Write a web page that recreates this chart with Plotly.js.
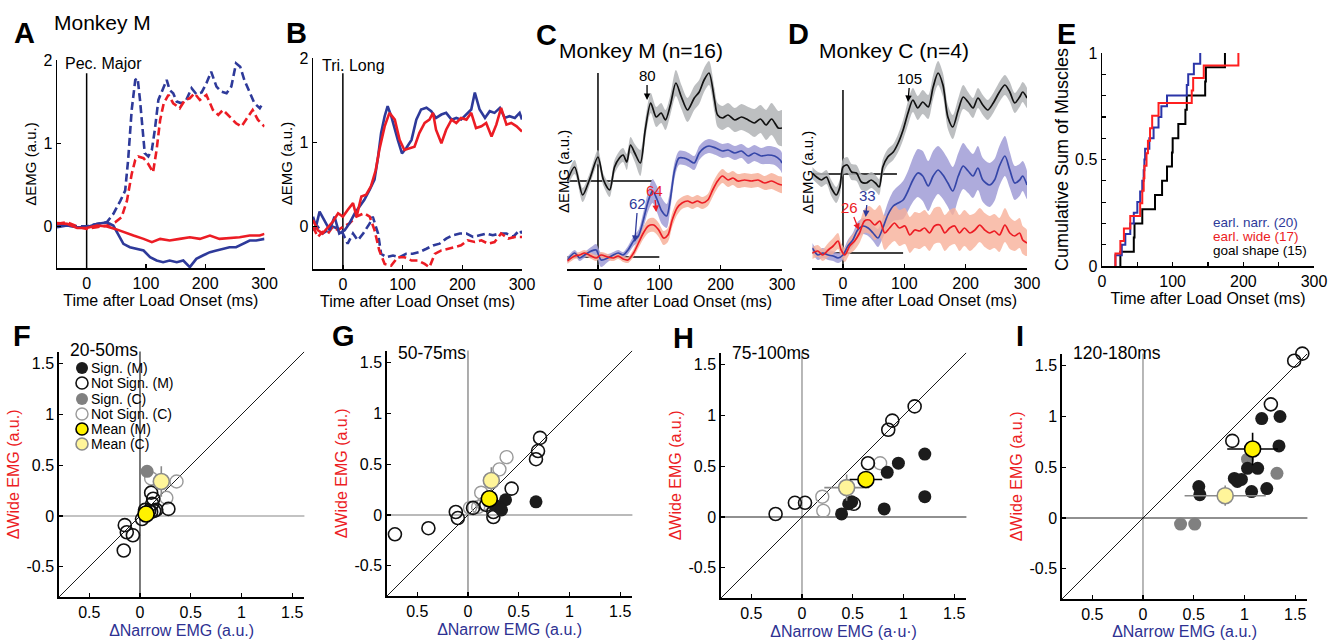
<!DOCTYPE html>
<html><head><meta charset="utf-8">
<script src="https://cdn.plot.ly/plotly-3.0.1.min.js"></script>
<style>html,body{margin:0;padding:0;background:#fff}#chart{width:1343px;height:640px}</style>
</head><body><div id="chart"></div>
<script>
// ---------- Panel A (Pec. Major) ----------
const aBlueDashT = [-50,-33,-16,0,17,34,45,57,65,70,76,82,86,90,95,98,104,110,115,121,128,135,140,146,152,160,168,177,185,194,202,210,219,227,236,244,252,259,266,275,283,292,297];
const aBlueDashV = [0.02,0.01,0,0,0.03,0.05,0.15,0.31,0.43,0.8,1.4,1.76,1.78,1.52,1.12,0.88,0.84,0.92,1.16,1.52,1.64,1.76,1.64,1.6,1.5,1.48,1.52,1.66,1.59,1.61,1.72,1.86,1.68,1.62,1.6,1.68,1.96,1.92,1.76,1.6,1.48,1.42,1.48];
const aRedDashT = [-50,-33,-16,0,17,34,48,59,68,76,82,87,96,104,112,118,124,130,138,146,157,166,174,182,191,202,213,222,230,241,252,261,269,280,289,300];
const aRedDashV = [0.03,0.05,0,-0.03,-0.01,0.01,0.05,0.11,0.31,0.63,0.8,0.84,0.82,0.75,0.65,0.92,1.28,1.48,1.58,1.48,1.42,1.52,1.54,1.6,1.52,1.58,1.4,1.34,1.4,1.32,1.24,1.2,1.28,1.4,1.28,1.2];
const aBlueT = [-50,-33,-16,0,17,34,45,54,62,73,85,96,107,118,129,140,152,163,174,185,196,208,219,230,241,252,264,275,286,300];
const aBlueV = [-0.01,0.01,-0.01,-0.01,0.03,0.05,0.01,-0.11,-0.21,-0.25,-0.27,-0.29,-0.37,-0.41,-0.43,-0.41,-0.43,-0.41,-0.49,-0.39,-0.35,-0.31,-0.29,-0.27,-0.25,-0.25,-0.21,-0.17,-0.17,-0.15];
const aRedT = [-50,-33,-16,0,17,34,48,62,79,96,110,124,140,157,174,191,208,224,241,258,275,292,300];
const aRedV = [0.04,0.03,-0.02,-0.02,0.01,0,-0.03,-0.07,-0.11,-0.15,-0.19,-0.15,-0.17,-0.15,-0.13,-0.15,-0.11,-0.15,-0.14,-0.13,-0.11,-0.11,-0.09];

// ---------- Panel B (Tri. Long) ----------
const bBlueT = [-50,-45,-39,-31,-22,-14,-6,3,11,20,28,36,45,53,59,64,70,75,81,87,92,99,106,115,123,131,140,148,156,165,173,182,190,198,207,215,221,229,238,246,254,263,271,279,288,296,300];
const bBlueV = [0.12,0,0.18,0.08,-0.04,0.12,-0.08,-0.04,0.04,0.16,0.24,0.32,0.44,0.56,0.83,1.11,1.31,1.43,1.31,1.15,1.03,0.87,0.93,1.03,1.27,1.39,1.41,1.37,1.29,1.33,1.35,1.27,1.29,1.27,1.33,1.39,1.59,1.39,1.29,1.37,1.35,1.41,1.29,1.31,1.29,1.35,1.27];
const bRedT = [-50,-42,-34,-25,-17,-8,0,8,17,23,31,39,47,55,61,70,78,87,95,103,112,120,128,137,145,151,156,165,173,182,190,198,207,215,223,232,240,249,257,265,274,282,291,300];
const bRedV = [0.08,-0.04,-0.08,0,0.06,0.16,0.12,0.2,0.28,0.12,0.36,0.38,0.48,0.67,0.91,1.19,1.35,1.27,1.03,0.91,0.93,0.95,1.11,1.23,1.27,1.35,1.15,0.99,1.15,1.27,1.23,1.29,1.27,1.35,1.17,1.19,1.23,1.07,1.21,1.41,1.21,1.23,1.19,1.13];
const bBlueDashT = [-50,-42,-34,-25,-17,-8,0,8,17,25,34,45,50,59,64,73,84,95,106,117,128,140,151,162,173,184,196,207,218,229,240,251,263,274,285,296,300];
const bBlueDashV = [-0.04,0,-0.08,-0.04,0,-0.02,-0.08,-0.2,-0.08,-0.16,-0.08,0.04,0.12,-0.08,-0.32,-0.36,-0.34,-0.36,-0.32,-0.32,-0.3,-0.26,-0.22,-0.2,-0.14,-0.1,-0.08,-0.08,-0.12,-0.1,-0.08,-0.1,-0.08,-0.08,-0.12,-0.04,-0.08];
const bRedDashT = [-50,-42,-34,-25,-17,-8,0,11,22,36,45,53,61,70,81,92,103,115,126,137,145,154,165,176,187,198,209,221,232,243,254,265,277,288,300];
const bRedDashV = [0,-0.12,-0.06,-0.08,0,-0.04,0,0.04,0.12,0.16,0.12,-0.04,-0.28,-0.44,-0.46,-0.36,-0.36,-0.4,-0.4,-0.44,-0.48,-0.32,-0.28,-0.26,-0.24,-0.22,-0.16,-0.18,-0.16,-0.2,-0.18,-0.08,-0.14,-0.12,-0.12];

// ---------- Panel C (Monkey M, n=16) ----------
const cBlackT = [-50,-38,-25,-14,0,9,19,27,35,41,47,53,60,69,77,86,95,103,110,118,127,136,146,157,165,173,181,190,195,203,212,223,234,245,255,265,274,283,294,300];
const cBlackV = [0.0,0.14,-0.14,0.01,0.24,0.01,-0.09,0.14,0.23,0.26,0.19,0.36,0.28,0.18,0.51,0.78,0.64,0.68,0.61,0.76,0.98,0.84,0.71,0.83,0.89,1.01,1.08,0.81,0.66,0.63,0.66,0.61,0.64,0.61,0.58,0.62,0.56,0.62,0.53,0.53];
const cBlackSem = [0.06,0.07,0.07,0.06,0.07,0.06,0.07,0.07,0.07,0.07,0.08,0.08,0.09,0.13,0.1,0.1,0.1,0.1,0.1,0.1,0.13,0.12,0.12,0.12,0.12,0.12,0.12,0.12,0.12,0.12,0.12,0.12,0.13,0.13,0.14,0.14,0.15,0.16,0.17,0.18];
const cBlueT = [-50,-38,-30,-22,-11,-3,5,16,25,33,41,49,58,66,74,82,89,96,104,112,118,125,132,140,148,157,165,173,181,192,203,212,223,234,245,255,266,277,288,297,300];
const cBlueV = [-0.03,0.04,-0.01,0.02,0.06,0.07,-0.03,-0.01,0.02,0.04,0.02,0.07,0.16,0.21,0.37,0.56,0.66,0.58,0.46,0.41,0.58,0.87,0.99,0.99,0.97,0.94,1.04,1.09,1.11,1.09,1.06,1.07,1.04,1.06,1.01,1.04,1.01,1.02,1.01,0.97,0.94];
const cBlueSem = [0.03,0.03,0.03,0.03,0.04,0.06,0.07,0.04,0.03,0.03,0.03,0.04,0.05,0.06,0.08,0.1,0.12,0.13,0.13,0.12,0.1,0.08,0.07,0.07,0.07,0.07,0.07,0.07,0.07,0.07,0.07,0.07,0.07,0.07,0.08,0.08,0.08,0.09,0.09,0.1,0.1];
const cRedT = [-50,-38,-30,-22,-11,-3,5,16,25,33,41,49,58,66,74,82,91,99,107,114,121,129,137,146,154,162,170,179,187,195,203,212,220,228,239,250,261,272,283,294,300];
const cRedV = [-0.04,0.01,0.02,0.04,0.01,-0.01,0.02,0.0,-0.01,0.01,-0.02,-0.03,0.04,0.14,0.24,0.31,0.32,0.27,0.19,0.22,0.37,0.49,0.54,0.56,0.54,0.56,0.54,0.57,0.67,0.76,0.81,0.77,0.79,0.76,0.77,0.76,0.77,0.74,0.76,0.73,0.72];
const cRedSem = [0.03,0.03,0.03,0.03,0.03,0.03,0.03,0.03,0.03,0.03,0.03,0.03,0.04,0.05,0.06,0.07,0.07,0.07,0.07,0.07,0.07,0.07,0.06,0.06,0.06,0.06,0.06,0.06,0.07,0.07,0.07,0.07,0.07,0.07,0.07,0.07,0.07,0.07,0.08,0.08,0.08];

// ---------- Panel D (Monkey C, n=4) ----------
const dBlackT = [-50,-43,-35,-27,-19,-11,-5,0,7,14,22,30,38,46,53,59,65,73,82,90,98,106,114,122,130,139,147,155,163,171,179,188,196,204,212,220,228,236,245,255,264,272,280,288,293,300];
const dBlackV = [0.01,-0.03,-0.06,-0.03,-0.14,-0.21,-0.13,0.07,0.09,0.02,0.01,-0.08,-0.09,-0.06,-0.09,-0.13,0.07,0.17,0.22,0.31,0.44,0.61,0.74,0.66,0.72,0.67,0.87,1.01,0.89,0.57,0.47,0.64,0.77,0.72,0.66,0.76,0.69,0.64,0.71,0.82,0.89,0.82,0.71,0.77,0.82,0.76];
const dBlackSem = [0.06,0.06,0.07,0.07,0.08,0.08,0.08,0.08,0.08,0.08,0.08,0.08,0.08,0.08,0.08,0.08,0.08,0.08,0.08,0.09,0.1,0.12,0.12,0.12,0.12,0.12,0.12,0.12,0.12,0.12,0.12,0.12,0.12,0.1,0.1,0.1,0.1,0.1,0.1,0.1,0.1,0.1,0.1,0.1,0.1,0.1];
const dBlueT = [-50,-41,-33,-24,-16,-8,0,8,16,24,33,41,49,57,65,73,82,90,98,106,114,122,130,139,147,155,163,171,179,188,196,204,212,220,228,239,247,255,264,272,280,288,293,300];
const dBlueV = [0.05,-0.02,0,-0.02,-0.03,-0.05,-0.02,0.07,0.13,0.23,0.27,0.25,0.2,0.15,0.25,0.38,0.47,0.5,0.53,0.62,0.73,0.8,0.77,0.67,0.77,0.83,0.78,0.7,0.62,0.77,0.87,0.82,0.77,0.85,0.73,0.68,0.73,0.87,0.97,0.83,0.7,0.73,0.77,0.68];
const dBlueSem = [0.05,0.05,0.05,0.05,0.05,0.05,0.05,0.06,0.07,0.08,0.08,0.08,0.08,0.09,0.1,0.12,0.15,0.17,0.19,0.2,0.22,0.24,0.25,0.25,0.25,0.24,0.24,0.24,0.24,0.23,0.23,0.22,0.22,0.22,0.22,0.22,0.21,0.2,0.2,0.18,0.17,0.16,0.15,0.14];
const dRedT = [-50,-41,-33,-24,-16,-8,-3,3,11,19,27,35,43,52,60,68,76,84,92,101,109,117,125,133,141,149,158,166,174,182,190,198,207,215,223,231,239,247,255,264,272,280,288,293,300];
const dRedV = [0,0.02,-0.02,0.03,0.07,0.12,0.03,-0.02,0.07,0.12,0.2,0.32,0.33,0.28,0.32,0.2,0.25,0.3,0.25,0.27,0.18,0.23,0.22,0.25,0.2,0.27,0.28,0.2,0.25,0.27,0.2,0.25,0.2,0.23,0.28,0.23,0.2,0.22,0.18,0.28,0.2,0.17,0.2,0.13,0.1];
const dRedSem = [0.06,0.06,0.06,0.07,0.08,0.08,0.07,0.07,0.08,0.09,0.1,0.12,0.14,0.15,0.16,0.17,0.17,0.18,0.18,0.18,0.18,0.18,0.18,0.18,0.18,0.18,0.18,0.18,0.18,0.18,0.18,0.18,0.18,0.17,0.17,0.17,0.17,0.17,0.17,0.17,0.16,0.15,0.15,0.14,0.13];

// ---------- Panel E (onset times, ms) ----------
const eNarrow = [19,28,33,40,45,50,54,57,59,60,61,67,73,80,84,92,120,122,130,139];
const eWide = [19,26,31,40,54,57,59,60,63,65,68,71,80,127,129,144,193];
const eGoal = [26,45,46,57,75,85,92,99,100,108,118,120,146,147,174];
const eLabels = ['earl. narr. (20)', 'earl. wide (17)', 'goal shape (15)'];

// ---------- Panels F-I (scatter) ----------
const fNotCx = [0.11,0.36,0.26], fNotCy = [0.37,0.34,0.18];
const fNotMx = [0.11,0.13,0.12,0.28,0.05,0.09,0.14,0.02,-0.15,-0.13,-0.07,-0.16,0.11,0.16];
const fNotMy = [0.23,0.17,0.12,0.07,0.06,0.05,0.05,-0.03,-0.09,-0.16,-0.19,-0.34,0.04,0.06];
const fSigCx = [0.07], fSigCy = [0.44];
const fSigMx = [0.07], fSigMy = [0.04];
const fMeanC = [0.21,0.34], fMeanCErr = [0.04,0.15];
const fMeanM = [0.06,0.02], fMeanMErr = [0.03,0.03];

const gNotCx = [0.38,0.31,0.13,0.15,0.02,0.1], gNotCy = [0.57,0.45,0.22,0.11,0.07,0.08];
const gNotMx = [-0.72,-0.39,-0.12,-0.1,0.05,0.25,0.25,0.43,0.67,0.69,0.71,0.18];
const gNotMy = [-0.19,-0.13,0.03,-0.03,0.07,-0.02,0.03,0.26,0.55,0.63,0.76,0.1];
const gSigCx = [], gSigCy = [];
const gSigMx = [0.37,0.3,0.26,0.67,0.33], gSigMy = [0.15,0.08,0.1,0.13,0.05];
const gMeanC = [0.23,0.34], gMeanCErr = [0.05,0.13];
const gMeanM = [0.21,0.16], gMeanMErr = [0.03,0.03];

const hNotCx = [0.2,0.21,0.77], hNotCy = [0.2,0.06,0.53];
const hNotMx = [-0.26,-0.07,0.03,0.51,0.65,0.85,0.89,1.11], hNotMy = [0.03,0.14,0.14,0.13,0.53,0.86,0.95,1.09];
const hSigCx = [], hSigCy = [];
const hSigMx = [0.39,0.46,0.49,0.81,0.84,0.95,1.21,1.21], hSigMy = [0.03,0.13,0.15,0.08,0.44,0.53,0.62,0.2];
const hMeanC = [0.44,0.29], hMeanCErr = [0.22,0.13];
const hMeanM = [0.63,0.37], hMeanMErr = [0.16,0.05];

const iNotCx = [], iNotCy = [];
const iNotMx = [1.49,1.57,1.26,0.88], iNotMy = [1.55,1.62,1.12,0.76];
const iSigCx = [1.03,1.32,0.37,0.51], iSigCy = [0.58,0.44,-0.06,-0.06];
const iSigMx = [1.17,1.35,1.34,1.03,1.13,0.9,0.93,0.97,0.55,0.56,1.07,1.22];
const iSigMy = [0.98,1.0,0.71,0.49,0.49,0.39,0.36,0.38,0.31,0.23,0.26,0.29];
const iMeanC = [0.81,0.22], iMeanCErr = [0.4,0.1];
const iMeanM = [1.08,0.68], iMeanMErr = [0.25,0.16];

const scatterTicks = [-0.5,0,0.5,1,1.5];
const scatterXTickText = ['0.5','0','0.5','1','1.5'];
const scatterYTickText = ['-0.5','0','0.5','1','1.5'];
const legendLabels = ['Sign. (M)','Not Sign. (M)','Sign. (C)','Not Sign. (C)','Mean (M)','Mean (C)'];
const intervals = ['20-50ms','50-75ms','75-100ms','120-180ms'];

// ---------- styles ----------
const FONT = 'Liberation Sans, Arial, sans-serif';
const BLUE = '#2e3a9a', RED = '#ec1c24', BLACK = '#111';
const W = 1343, H = 640;
const px = v => v / W, py = v => 1 - v / H;
const dx = (a, b) => [a / W, b / W];
const dy = (top, bot) => [1 - bot / H, 1 - top / H];
const C_OFF = 0.76, D_OFF = 0.79;

const traces = [];
function ln(t, v, ax, color, dash, width, shape, off) {
  traces.push({x: t, y: v.map(a => a + (off || 0)), xaxis: 'x' + ax, yaxis: 'y' + ax, mode: 'lines',
    line: {color, width, dash: dash || 'solid', shape: shape || 'linear', smoothing: 0.8}, hoverinfo: 'skip'});
}
function band(t, v, s, ax, fill, off) {
  const up = v.map((a, i) => a + s[i] + off), lo = v.map((a, i) => a - s[i] + off);
  traces.push({x: t.concat(t.slice().reverse()), y: up.concat(lo.slice().reverse()), xaxis: 'x' + ax, yaxis: 'y' + ax,
    mode: 'lines', fill: 'toself', fillcolor: fill, line: {width: 0, shape: 'spline', smoothing: 0.8}, hoverinfo: 'skip'});
}
// A
const DASH = '8px,4px';
ln(aBlueDashT, aBlueDashV, '', BLUE, DASH, 2.6);
ln(aRedDashT, aRedDashV, '', RED, DASH, 2.6);
ln(aBlueT, aBlueV, '', BLUE, 'solid', 2.6);
ln(aRedT, aRedV, '', RED, 'solid', 2.6);
// B
ln(bBlueDashT, bBlueDashV, '2', BLUE, DASH, 2.6);
ln(bRedDashT, bRedDashV, '2', RED, DASH, 2.6);
ln(bBlueT, bBlueV, '2', BLUE, 'solid', 2.6);
ln(bRedT, bRedV, '2', RED, 'solid', 2.6);
// C
band(cBlackT, cBlackV, cBlackSem, '3', 'rgba(178,180,182,0.85)', C_OFF);
band(cBlueT, cBlueV, cBlueSem, '3', 'rgba(160,156,214,0.85)', 0);
band(cRedT, cRedV, cRedSem, '3', 'rgba(247,176,154,0.85)', 0);
ln(cBlackT, cBlackV, '3', BLACK, 'solid', 1.7, 'spline', C_OFF);
ln(cBlueT, cBlueV, '3', '#3546a8', 'solid', 1.7, 'spline');
ln(cRedT, cRedV, '3', RED, 'solid', 1.7, 'spline');
// D
band(dBlackT, dBlackV, dBlackSem, '4', 'rgba(178,180,182,0.85)', D_OFF);
band(dBlueT, dBlueV, dBlueSem, '4', 'rgba(160,156,214,0.85)', 0);
band(dRedT, dRedV, dRedSem, '4', 'rgba(247,176,154,0.8)', 0);
ln(dBlackT, dBlackV, '4', BLACK, 'solid', 1.7, 'spline', D_OFF);
ln(dBlueT, dBlueV, '4', '#3546a8', 'solid', 1.7, 'spline');
ln(dRedT, dRedV, '4', RED, 'solid', 1.7, 'spline');
// E
function steps(times, color) {
  const n = times.length, x = [times[0]], y = [0];
  times.forEach((t, i) => { x.push(t); y.push((i + 1) / n); });
  traces.push({x, y, xaxis: 'x5', yaxis: 'y5', mode: 'lines', line: {shape: 'hv', color, width: 2}, cliponaxis: false, hoverinfo: 'skip'});
}
steps(eGoal, '#000');
steps(eNarrow, '#2b35a8');
steps(eWide, '#ff1f1f');

// scatter panels
const MK = {
  notC: {symbol: 'circle-open', size: 13, color: '#9a9a9a', line: {width: 1.4}},
  notM: {symbol: 'circle-open', size: 13, color: '#111', line: {width: 1.6}},
  sigC: {symbol: 'circle', size: 13, color: '#808080', line: {width: 0}},
  sigM: {symbol: 'circle', size: 13, color: '#1c1c1c', line: {width: 0}},
  meanC: {symbol: 'circle', size: 16, color: '#fff59a', line: {color: '#8a8a8a', width: 1.6}},
  meanM: {symbol: 'circle', size: 16, color: '#fff200', line: {color: '#000', width: 1.6}}
};
function pts(xs, ys, ax, mk) {
  traces.push({x: xs, y: ys, xaxis: 'x' + ax, yaxis: 'y' + ax, mode: 'markers', marker: MK[mk], cliponaxis: false, hoverinfo: 'skip'});
}
function mean(m, err, ax, mk, col) {
  traces.push({x: [m[0]], y: [m[1]], xaxis: 'x' + ax, yaxis: 'y' + ax, mode: 'markers', marker: MK[mk], cliponaxis: false, hoverinfo: 'skip',
    error_x: {type: 'data', array: [err[0]], color: col, thickness: 1.6, width: 0},
    error_y: {type: 'data', array: [err[1]], color: col, thickness: 1.6, width: 0}});
}
const SC = [
  ['6', fNotCx, fNotCy, fNotMx, fNotMy, fSigCx, fSigCy, fSigMx, fSigMy, fMeanC, fMeanCErr, fMeanM, fMeanMErr],
  ['7', gNotCx, gNotCy, gNotMx, gNotMy, gSigCx, gSigCy, gSigMx, gSigMy, gMeanC, gMeanCErr, gMeanM, gMeanMErr],
  ['8', hNotCx, hNotCy, hNotMx, hNotMy, hSigCx, hSigCy, hSigMx, hSigMy, hMeanC, hMeanCErr, hMeanM, hMeanMErr],
  ['9', iNotCx, iNotCy, iNotMx, iNotMy, iSigCx, iSigCy, iSigMx, iSigMy, iMeanC, iMeanCErr, iMeanM, iMeanMErr]
];
SC.forEach(p => {
  const ax = p[0];
  pts(p[1], p[2], ax, 'notC');
  pts(p[3], p[4], ax, 'notM');
  pts(p[5], p[6], ax, 'sigC');
  pts(p[7], p[8], ax, 'sigM');
  mean(p[9], p[10], ax, 'meanC', '#8a8a8a');
  mean(p[11], p[12], ax, 'meanM', '#000');
});

// ---------- axes ----------
const tf = {size: 16, family: FONT, color: '#000'};
const base = {showline: true, linecolor: '#000', linewidth: 1.5, ticks: 'inside', ticklen: 4, tickwidth: 1.3, tickcolor: '#000',
  showgrid: false, zeroline: false, tickfont: tf, fixedrange: true};
const timeX = (dom, anchor) => Object.assign({}, base, {domain: dom, anchor, range: [-50, 300], tickvals: [0, 100, 200, 300],
  title: {text: 'Time after Load Onset (ms)', font: {size: 16, family: FONT, color: '#000'}, standoff: 2}});
const layout = {
  width: W, height: H, margin: {l: 0, r: 0, t: 0, b: 0}, paper_bgcolor: '#fff', plot_bgcolor: 'rgba(0,0,0,0)',
  showlegend: false, font: {family: FONT, color: '#000'},
  xaxis: timeX(dx(57, 264.5), 'y'),
  yaxis: Object.assign({}, base, {domain: dy(60, 268), anchor: 'x', range: [-0.5, 2], tickvals: [0, 1, 2],
    title: {text: 'ΔEMG (a.u.)', font: {size: 15, family: FONT}, standoff: 3}}),
  xaxis2: timeX(dx(313, 522), 'y2'),
  yaxis2: Object.assign({}, base, {domain: dy(58, 269), anchor: 'x2', range: [-0.5, 2], tickvals: [0, 1, 2],
    title: {text: 'ΔEMG (a.u.)', font: {size: 15, family: FONT}, standoff: 3}}),
  xaxis3: timeX(dx(567.3, 782), 'y3'),
  yaxis3: {domain: dy(55, 269), anchor: 'x3', range: [-0.12, 2.02], visible: false, fixedrange: true},
  xaxis4: timeX(dx(812.3, 1027), 'y4'),
  yaxis4: {domain: dy(55, 268), anchor: 'x4', range: [-0.15, 1.98], visible: false, fixedrange: true},
  xaxis5: Object.assign({}, base, {domain: dx(1102, 1314), anchor: 'y5', range: [0, 300], tick0: 0, dtick: 100,
    minor: {dtick: 50, ticks: 'inside', ticklen: 4, tickcolor: '#000', tickwidth: 1.2},
    title: {text: 'Time after Load Onset (ms)', font: {size: 16, family: FONT}, standoff: 2}}),
  yaxis5: Object.assign({}, base, {domain: dy(53, 266), anchor: 'x5', range: [0, 1], tick0: 0, dtick: 0.5,
    minor: {dtick: 0.1, ticks: 'inside', ticklen: 4, tickcolor: '#000', tickwidth: 1.2},
    title: {text: 'Cumulative Sum of Muscles', font: {size: 18, family: FONT}, standoff: 1}}),
  shapes: [], annotations: []
};
const scDom = [['6', 58.8, 304.4, 351.6, 597.2], ['7', 386.8, 632.4, 350.6, 596.2], ['8', 720.8, 966.4, 352.6, 598.2], ['9', 1061.8, 1307.4, 353.6, 599.2]];
const zeroCols = {'6': ['#222', '#888'], '7': ['#777', '#777'], '8': ['#888', '#222'], '9': ['#888', '#222']};
scDom.forEach(([k, l, r, t, b], idx) => {
  layout['xaxis' + k] = Object.assign({}, base, {domain: dx(l, r), anchor: 'y' + k, range: [-0.8, 1.62], tickvals: scatterTicks, ticktext: scatterXTickText,
    title: {text: idx === 2 ? 'ΔNarrow EMG (a·u·)' : 'ΔNarrow EMG (a.u.)', font: {size: 16, family: FONT, color: '#2e3192'}, standoff: 5}});
  layout['yaxis' + k] = Object.assign({}, base, {domain: dy(t, b), anchor: 'x' + k, range: [-0.8, 1.62], tickvals: scatterTicks, ticktext: scatterYTickText,
    title: {text: 'ΔWide EMG (a.u.)', font: {size: 16, family: FONT, color: '#ec1c24'}, standoff: 3}});
  layout.shapes.push({type: 'line', layer: 'below', xref: 'x' + k, yref: 'y' + k + ' domain', x0: 0, x1: 0, y0: 0, y1: 1, line: {color: zeroCols[k][0], width: 1.2}});
  layout.shapes.push({type: 'line', layer: 'below', xref: 'x' + k + ' domain', yref: 'y' + k, x0: 0, x1: 1, y0: 0, y1: 0, line: {color: zeroCols[k][1], width: 1.2}});
  layout.shapes.push({type: 'line', layer: 'below', xref: 'x' + k, yref: 'y' + k, x0: -0.8, y0: -0.8, x1: 1.62, y1: 1.62, line: {color: '#000', width: 0.9}});
  layout.annotations.push({xref: 'paper', yref: 'paper', x: px(l + 9), y: py(idx === 0 ? 350 : 353), xanchor: 'left', yanchor: 'middle', showarrow: false,
    text: intervals[idx], font: {size: 17.5, family: FONT, color: '#000'}});
});
// reference lines in A-D
const vline = (ax, y0, y1) => layout.shapes.push({type: 'line', layer: 'below', xref: 'x' + ax, yref: 'y' + ax, x0: 0, x1: 0, y0, y1, line: {color: '#000', width: 1.5}});
const hline = (ax, y, x1) => layout.shapes.push({type: 'line', layer: 'below', xref: 'x' + ax, yref: 'y' + ax, x0: -50, x1, y0: y, y1: y, line: {color: '#000', width: 1.5}});
vline('', -0.5, 1.84); vline('2', -0.5, 1.82); vline('3', -0.12, 1.84); vline('4', -0.15, 1.63);
hline('3', 0, 100); hline('3', C_OFF, 88); hline('4', 0, 98); hline('4', D_OFF, 88);

// text annotations
const A = layout.annotations;
const txt = (x, y, text, size, opts) => A.push(Object.assign({xref: 'paper', yref: 'paper', x: px(x), y: py(y), text, showarrow: false,
  xanchor: 'center', yanchor: 'middle', font: {size, family: FONT, color: '#000'}}, opts || {}));
[['A', 24, 33], ['B', 296, 33], ['C', 546, 35], ['D', 799, 34], ['E', 1066, 34], ['F', 22, 336], ['G', 344, 336], ['H', 683, 338], ['I', 1020, 336]]
  .forEach(([l, x, y]) => txt(x, y, '<b>' + l + '</b>', 29));
txt(52, 22, 'Monkey M', 21, {xanchor: 'left'});
txt(63, 64, 'Pec. Major', 16, {xanchor: 'left'});
txt(320, 65, 'Tri. Long', 16, {xanchor: 'left'});
txt(557, 50, 'Monkey M (n=16)', 21, {xanchor: 'left'});
txt(817, 50, 'Monkey C (n=4)', 21, {xanchor: 'left'});
txt(563, 172, 'ΔEMG (a.u.)', 15, {textangle: -90});
txt(808, 173, 'ΔEMG (a.u.)', 15, {textangle: -90});
// E legend
[[BLUE, 222], [RED, 236], ['#000', 250]].forEach(([c, y], i) => txt(1211, y, eLabels[i], 13.5, {xanchor: 'left', font: {size: 13.5, family: FONT, color: c}}));
// arrows C / D
const arr = (ax, x, y, text, color, dxp, dyp) => A.push({xref: 'x' + ax, yref: 'y' + ax, x, y, text, showarrow: true, arrowhead: 2, arrowsize: 1,
  arrowwidth: 1.3, arrowcolor: color, ax: dxp, ay: dyp, standoff: 0, startstandoff: 0, font: {size: 15, family: FONT, color}});
arr('3', 80, 1.57, '80', '#000', 0, -25);
arr('3', 95, 0.45, '64', RED, -2, -22);
arr('3', 60, 0.15, '62', '#2e3a9a', 3, -39);
arr('4', 106, 1.51, '105', '#000', 2, -24);
arr('4', 37, 0.36, '33', '#2e3a9a', 2, -22);
arr('4', 26, 0.23, '26', RED, -9, -23);
// F legend
const legY = [368, 383, 399, 414, 429, 444];
const legSty = [
  {fill: '#1c1c1c', line: '#1c1c1c', w: 0},
  {fill: 'rgba(0,0,0,0)', line: '#111', w: 1.6},
  {fill: '#808080', line: '#808080', w: 0},
  {fill: 'rgba(0,0,0,0)', line: '#9a9a9a', w: 1.4},
  {fill: '#fff200', line: '#000', w: 1.6},
  {fill: '#fff59a', line: '#8a8a8a', w: 1.6}
];
legY.forEach((y, i) => {
  const s = legSty[i];
  layout.shapes.push({type: 'circle', xref: 'paper', yref: 'paper', xsizemode: 'pixel', ysizemode: 'pixel', xanchor: px(82), yanchor: py(y),
    x0: -6, x1: 6, y0: -6, y1: 6, fillcolor: s.fill, line: {color: s.line, width: s.w}});
  txt(89, y, legendLabels[i], 14, {xanchor: 'left'});
});

Plotly.newPlot('chart', traces, layout, {displayModeBar: false, staticPlot: true});
</script></body></html>
